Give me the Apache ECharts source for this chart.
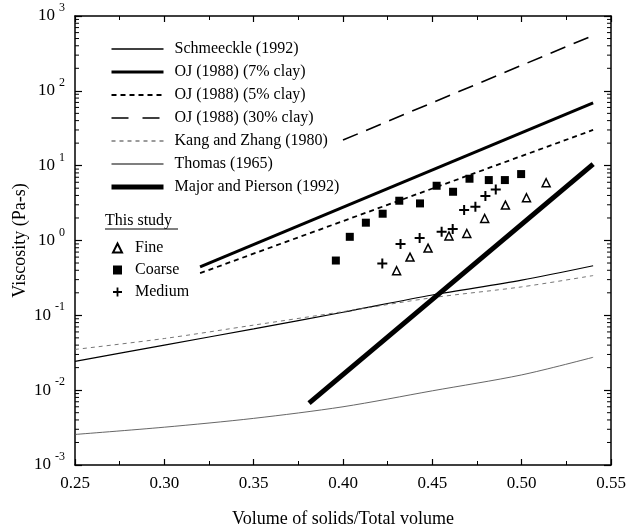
<!DOCTYPE html>
<html><head><meta charset="utf-8">
<script src="https://cdn.jsdelivr.net/npm/echarts@6/dist/echarts.min.js"></script>
<style>html,body{margin:0;padding:0;background:#fff}#c{width:633px;height:529px}</style>
</head><body><div id="c"></div>
<script>
// ---- data ----
const curveX      = [0.25, 0.30, 0.35, 0.40, 0.45, 0.50, 0.54];
const schmeeckle  = [0.0243, 0.040, 0.066, 0.110, 0.187, 0.295, 0.46];
const kangZhang   = [0.035, 0.049, 0.074, 0.112, 0.172, 0.24, 0.34];
const thomas      = [0.00256, 0.0032, 0.0042, 0.0060, 0.0098, 0.016, 0.0275];
const ojX         = [0.32, 0.54];
const oj7         = [0.445, 69];
const oj5         = [0.366, 30];
const oj30X       = [0.40, 0.54];
const oj30        = [22, 550];
const mpX         = [0.381, 0.54];
const majorPierson= [0.0067, 10.5];

const fineX   = [0.430, 0.4375, 0.4476, 0.4593, 0.4693, 0.4793, 0.4909, 0.5027, 0.5137];
const fineY   = [0.394, 0.600, 0.791, 1.15, 1.24, 1.97, 2.97, 3.73, 5.91];
const coarseX = [0.3960, 0.4038, 0.4128, 0.4222, 0.4315, 0.4431, 0.4524, 0.4616, 0.4708, 0.4816, 0.4906, 0.4997];
const coarseY = [0.54, 1.12, 1.73, 2.28, 3.40, 3.13, 5.39, 4.48, 6.69, 6.42, 6.42, 7.72];
const mediumX = [0.4220, 0.4322, 0.4429, 0.4552, 0.4614, 0.4678, 0.4741, 0.4797, 0.4855];
const mediumY = [0.493, 0.895, 1.08, 1.31, 1.42, 2.55, 2.82, 3.92, 4.82];

const xTicks = { min: 0.25, max: 0.55, interval: 0.05 };
const yDecades = [-3, -2, -1, 0, 1, 2];
const minorMult = [2, 3, 4, 5, 6, 7, 8, 9];

// ---- build ----
const FONT = 'Liberation Serif';
const pair = (xs, ys) => xs.map((x, i) => [x, ys[i]]);
const minorVals = [];
yDecades.forEach(d => minorMult.forEach(m => minorVals.push([xTicks.min, m * Math.pow(10, d)])));

const chart = echarts.init(document.getElementById('c'));
const plusPath = 'path://M4,0 H6 V4 H10 V6 H6 V10 H4 V6 H0 V4 H4 Z';

const baseX = {
  type: 'value', min: xTicks.min, max: xTicks.max, interval: xTicks.interval,
  axisLine: { show: true, onZero: false, lineStyle: { color: '#000', width: 1.5 } },
  axisTick: { show: true, inside: true, length: 6, lineStyle: { color: '#000', width: 1.2 } },
  minorTick: { show: true, splitNumber: 2, length: 4, lineStyle: { color: '#000', width: 1 } },
  splitLine: { show: false }
};
const baseY = {
  type: 'log', logBase: 10, min: 0.001, max: 1000, splitNumber: 6,
  axisLine: { show: true, onZero: false, lineStyle: { color: '#000', width: 1.5 } },
  axisTick: { show: true, inside: true, length: 7, lineStyle: { color: '#000', width: 1.2 } },
  splitLine: { show: false }
};

const lineDefs = [
  { name: 'Schmeeckle (1992)',        xs: curveX, ys: schmeeckle,   w: 1.2, c: '#000', t: 'solid', s: 0.3 },
  { name: 'OJ (1988) (7% clay)',      xs: ojX,    ys: oj7,          w: 3,   c: '#000', t: 'solid' },
  { name: 'OJ (1988) (5% clay)',      xs: ojX,    ys: oj5,          w: 1.8, c: '#000', t: [5, 4] },
  { name: 'OJ (1988) (30% clay)',     xs: oj30X,  ys: oj30,         w: 1.6, c: '#000', t: [16, 9], lt: [17, 14] },
  { name: 'Kang and Zhang (1980)',    xs: curveX, ys: kangZhang,    w: 0.9, c: '#666', t: [4, 4], s: 0.3 },
  { name: 'Thomas (1965)',            xs: curveX, ys: thomas,       w: 0.9, c: '#555', t: 'solid', s: 0.3 },
  { name: 'Major and Pierson (1992)', xs: mpX,    ys: majorPierson, w: 5,   c: '#000', t: 'solid' }
];

const lineSeries = lineDefs.map(d => ({
  name: d.name, type: 'line', data: pair(d.xs, d.ys), symbol: 'none', smooth: d.s || false,
  lineStyle: { color: d.c, width: d.w, type: d.t }, itemStyle: { color: d.c },
  z: 2, silent: true
}));

chart.setOption({
  animation: false,
  backgroundColor: '#fff',
  textStyle: { fontFamily: FONT },
  grid: { left: 75, right: 22, top: 16, bottom: 64, outerBoundsMode: 'none', containLabel: false },
  xAxis: [
    Object.assign({}, baseX, {
      position: 'bottom',
      axisLabel: { show: true, margin: 10, fontFamily: FONT, fontSize: 17, color: '#000',
        formatter: v => v.toFixed(2) },
      name: 'Volume of solids/Total volume', nameLocation: 'middle', nameGap: 45,
      nameTextStyle: { fontFamily: FONT, fontSize: 18, color: '#000' }
    }),
    Object.assign({}, baseX, { position: 'top', axisLabel: { show: false } })
  ],
  yAxis: [
    Object.assign({}, baseY, {
      position: 'left',
      axisLabel: { show: true, margin: 10, color: '#000',
        formatter: v => '{a|10}{b|' + Math.round(Math.log10(v)) + '}',
        rich: {
          a: { fontFamily: FONT, fontSize: 17, color: '#000' },
          b: { fontFamily: FONT, fontSize: 12, color: '#000', padding: [0, 0, 16, 4] }
        } },
      name: 'Viscosity (Pa-s)', nameLocation: 'middle', nameGap: 46, nameMoveOverlap: false,
      nameTextStyle: { fontFamily: FONT, fontSize: 18, color: '#000' }
    }),
    Object.assign({}, baseY, { position: 'right', axisLabel: { show: false } })
  ],
  legend: [
    {
      orient: 'vertical', left: 104, top: 36, itemWidth: 52, itemHeight: 12, itemGap: 7,
      selectedMode: false,
      itemStyle: { opacity: 0, borderWidth: 0 },
      textStyle: { fontFamily: FONT, fontSize: 16, color: '#000', padding: [0, 0, 0, 6] },
      data: lineDefs.map(d => ({ name: d.name,
        lineStyle: { width: Math.max(d.w, 1.3), type: d.lt || d.t, color: d.c } }))
    },
    {
      orient: 'vertical', left: 107, top: 235, itemWidth: 9, itemHeight: 9, itemGap: 6,
      selectedMode: false,
      textStyle: { fontFamily: FONT, fontSize: 16, color: '#000', padding: [0, 0, 0, 8] },
      data: ['Fine', 'Coarse', 'Medium']
    }
  ],
  graphic: [
    { type: 'text', left: 105, top: 213, style: { text: 'This study', fontFamily: FONT, fontSize: 16, fill: '#000' } },
    { type: 'line', shape: { x1: 105, y1: 229, x2: 178, y2: 229 }, style: { stroke: '#000', lineWidth: 1 } }
  ],
  series: lineSeries.concat([
    { name: 'Fine', type: 'scatter', data: pair(fineX, fineY), symbol: 'triangle', symbolSize: 8,
      itemStyle: { color: '#fff', borderColor: '#000', borderWidth: 1.5, opacity: 1 }, z: 5 },
    { name: 'Coarse', type: 'scatter', data: pair(coarseX, coarseY), symbol: 'rect', symbolSize: 8,
      itemStyle: { color: '#000', opacity: 1 }, z: 5 },
    { name: 'Medium', type: 'scatter', data: pair(mediumX, mediumY), symbol: plusPath, symbolSize: 10,
      itemStyle: { color: '#000', opacity: 1 }, z: 5 },
    { name: 'minorTicks', type: 'custom', data: minorVals, silent: true, z: 3,
      renderItem: (params, api) => {
        const v = api.value(1);
        const l = api.coord([xTicks.min, v]);
        const r = api.coord([xTicks.max, v]);
        return { type: 'group', children: [
          { type: 'line', shape: { x1: l[0], y1: l[1], x2: l[0] + 4, y2: l[1] }, style: { stroke: '#000', lineWidth: 1 } },
          { type: 'line', shape: { x1: r[0] - 4, y1: r[1], x2: r[0], y2: r[1] }, style: { stroke: '#000', lineWidth: 1 } }
        ] };
      } }
  ])
});
</script>
</body></html>
